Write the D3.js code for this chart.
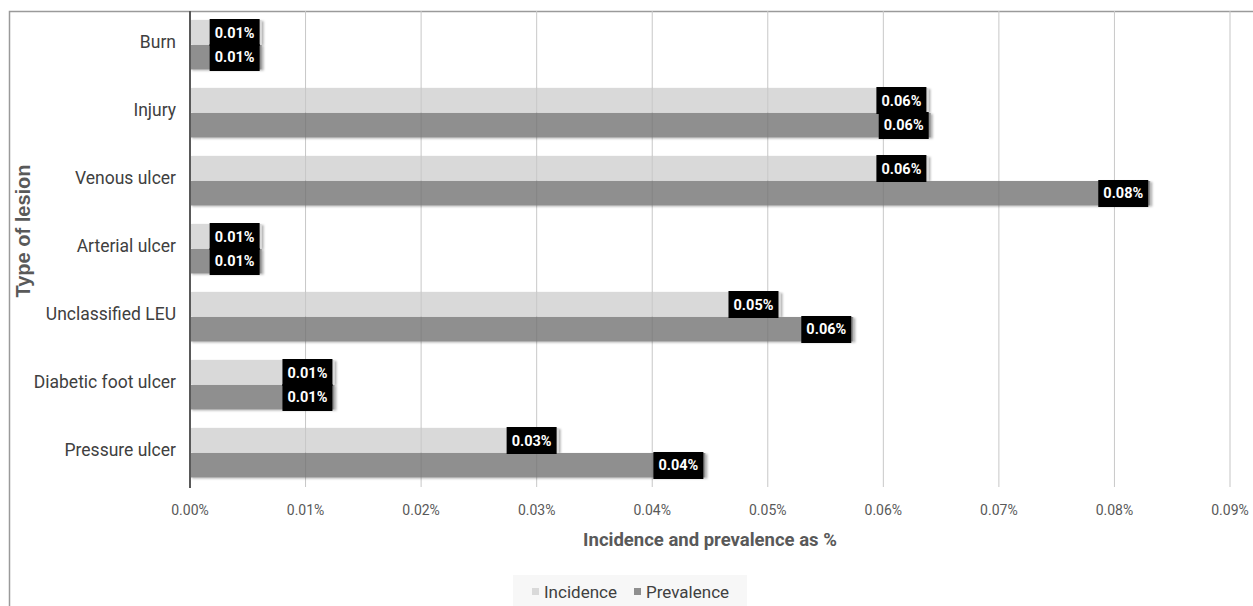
<!DOCTYPE html>
<html>
<head>
<meta charset="utf-8">
<script src="https://cdn.jsdelivr.net/npm/d3@7"></script>
<style>
  body { margin: 0; background: #fff; }
  text { font-family: Roboto, 'Liberation Sans', sans-serif; }
</style>
</head>
<body>
<script>
var w = 1253;
var h = 606;

// data
var categories = ['Burn', 'Injury', 'Venous ulcer', 'Arterial ulcer', 'Unclassified LEU', 'Diabetic foot ulcer', 'Pressure ulcer'];
var incidence = [0.0062, 0.0639, 0.0639, 0.0062, 0.0511, 0.0125, 0.0319];
var prevalence = [0.0062, 0.0641, 0.0831, 0.0062, 0.0574, 0.0125, 0.0446];
var seriesNames = ['Incidence', 'Prevalence'];
var seriesColors = ['#d9d9d9', '#8f8f8f'];
var ticks = [0, 0.01, 0.02, 0.03, 0.04, 0.05, 0.06, 0.07, 0.08, 0.09];

var svg = d3.select('body')
  .append('svg')
  .attr('width', w)
  .attr('height', h);

var defs = svg.append('defs');
defs.append('filter')
  .attr('id', 'shadow')
  .attr('x', '-5%').attr('y', '-20%').attr('width', '120%').attr('height', '160%')
  .append('feDropShadow')
  .attr('dx', 2).attr('dy', 1).attr('stdDeviation', 1)
  .attr('flood-color', '#000').attr('flood-opacity', 0.3);

// outer frame (only top and left visible)
svg.append('path')
  .attr('d', 'M9.5,' + h + 'V11.5H' + w)
  .attr('fill', 'none')
  .attr('stroke', '#9a9a9a')
  .attr('stroke-width', 1.5);

var x = d3.scaleLinear().domain([0, 0.09]).range([190, 1230]);
var y = d3.scaleBand().domain(categories).range([11, 487])
  .paddingInner(0.265).paddingOuter(0.1325);
var ySub = d3.scaleBand().domain(seriesNames).range([0, y.bandwidth()]);

var fmt = function(d) { return d.toFixed(2) + '%'; };

// grid lines
svg.append('g')
  .selectAll('line')
  .data(ticks.slice(1))
  .enter()
  .append('line')
  .attr('x1', function(d) { return x(d); })
  .attr('x2', function(d) { return x(d); })
  .attr('y1', 11)
  .attr('y2', 487)
  .attr('stroke', '#d9d9d9')
  .attr('stroke-width', 1);

// bars
var rows = categories.map(function(c, i) {
  return { cat: c, vals: [incidence[i], prevalence[i]] };
});
var group = svg.selectAll('g.row')
  .data(rows)
  .enter()
  .append('g')
  .attr('class', 'row')
  .attr('transform', function(d) { return 'translate(0,' + y(d.cat) + ')'; });

group.selectAll('rect')
  .data(function(d) { return d.vals.map(function(v, j) { return { v: v, s: seriesNames[j], j: j }; }); })
  .enter()
  .append('rect')
  .attr('x', x(0))
  .attr('y', function(d) { return ySub(d.s); })
  .attr('width', function(d) { return x(d.v) - x(0); })
  .attr('height', ySub.bandwidth() - 0.5)
  .attr('fill', function(d) { return seriesColors[d.j]; })
  .attr('filter', 'url(#shadow)');

// grid shows through the bars
svg.append('g')
  .selectAll('line')
  .data(ticks.slice(1))
  .enter()
  .append('line')
  .attr('x1', function(d) { return x(d); })
  .attr('x2', function(d) { return x(d); })
  .attr('y1', 11)
  .attr('y2', 487)
  .attr('stroke', '#000')
  .attr('stroke-opacity', 0.08)
  .attr('stroke-width', 1);

// data labels
var labels = group.selectAll('g.lab')
  .data(function(d) { return d.vals.map(function(v, j) { return { v: v, s: seriesNames[j] }; }); })
  .enter()
  .append('g')
  .attr('class', 'lab')
  .attr('transform', function(d) {
    return 'translate(' + (x(d.v) - 2) + ',' + (ySub(d.s) + ySub.bandwidth() / 2) + ')';
  });
labels.append('rect')
  .attr('x', -50)
  .attr('y', -13.5)
  .attr('width', 50)
  .attr('height', 27)
  .attr('fill', '#000');
labels.append('text')
  .attr('x', -25)
  .attr('y', 5)
  .attr('text-anchor', 'middle')
  .attr('font-size', '14.5px')
  .attr('font-weight', 'bold')
  .attr('fill', '#fff')
  .text(function(d) { return fmt(d.v); });

// left axis line
svg.append('line')
  .attr('x1', x(0)).attr('x2', x(0))
  .attr('y1', 11).attr('y2', 488)
  .attr('stroke', '#595959')
  .attr('stroke-width', 2);

// category labels
svg.append('g')
  .selectAll('text')
  .data(categories)
  .enter()
  .append('text')
  .attr('x', 176)
  .attr('y', function(d) { return y(d) + y.bandwidth() / 2 + 3; })
  .attr('text-anchor', 'end')
  .attr('font-size', '17.5px')
  .attr('fill', '#404040')
  .text(function(d) { return d; });

// x tick labels
svg.append('g')
  .selectAll('text')
  .data(ticks)
  .enter()
  .append('text')
  .attr('x', function(d) { return x(d); })
  .attr('y', 515)
  .attr('text-anchor', 'middle')
  .attr('font-size', '14px')
  .attr('fill', '#595959')
  .text(fmt);

// axis titles
svg.append('text')
  .attr('x', 710)
  .attr('y', 546)
  .attr('text-anchor', 'middle')
  .attr('font-size', '18.5px')
  .attr('font-weight', 'bold')
  .attr('fill', '#595959')
  .text('Incidence and prevalence as %');

svg.append('text')
  .attr('transform', 'translate(30,231) rotate(-90)')
  .attr('text-anchor', 'middle')
  .attr('font-size', '20px')
  .attr('font-weight', 'bold')
  .style('font-family', 'Liberation Sans, Arial, sans-serif')
  .attr('fill', '#595959')
  .text('Type of lesion');

// legend
svg.append('rect')
  .attr('x', 513).attr('y', 575)
  .attr('width', 234).attr('height', 31)
  .attr('fill', '#f7f7f7');
var legendX = [532, 634];
var leg = svg.selectAll('g.leg')
  .data(seriesNames)
  .enter()
  .append('g')
  .attr('class', 'leg')
  .attr('transform', function(d, i) { return 'translate(' + legendX[i] + ',592)'; });
leg.append('rect')
  .attr('x', 0).attr('y', -4)
  .attr('width', 7).attr('height', 7)
  .attr('fill', function(d, i) { return seriesColors[i]; });
leg.append('text')
  .attr('x', 12)
  .attr('y', 6)
  .attr('font-size', '17px')
  .attr('fill', '#404040')
  .text(function(d) { return d; });
</script>
</body>
</html>
